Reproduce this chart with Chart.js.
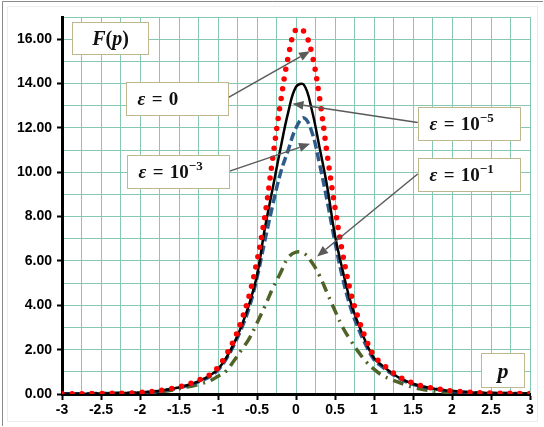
<!DOCTYPE html>
<html>
<head>
<meta charset="utf-8">
<script src="https://cdn.jsdelivr.net/npm/chart.js@4.4.1/dist/chart.umd.min.js"></script>
<style>
  html, body { margin: 0; padding: 0; background: #fff; }
  #marco { position: relative; width: 544px; height: 427px; }
</style>
</head>
<body>
<div id="marco"><canvas id="grafico" width="544" height="427"></canvas></div>
<script>
// Valores de p (eje horizontal)
const valoresP = [
  -3.0, -2.9, -2.8, -2.7, -2.6, -2.5, -2.4, -2.3, -2.2, -2.1,
  -2.0, -1.9, -1.8, -1.7, -1.6, -1.5, -1.4, -1.3, -1.2, -1.1,
  -1.0, -0.9, -0.8, -0.7, -0.6, -0.5, -0.4, -0.3, -0.2, -0.1,
   0.0,  0.1,  0.2,  0.3,  0.4,  0.5,  0.6,  0.7,  0.8,  0.9,
   1.0,  1.1,  1.2,  1.3,  1.4,  1.5,  1.6,  1.7,  1.8,  1.9,
   2.0,  2.1,  2.2,  2.3,  2.4,  2.5,  2.6,  2.7,  2.8,  2.9, 3.0
];

// F(p) para eps = 0 (punteado rojo)
const fEps0 = [
  0.01, 0.01, 0.01, 0.02, 0.02, 0.02, 0.03, 0.03, 0.04, 0.05,
  0.07, 0.10, 0.13, 0.18, 0.24, 0.32, 0.42, 0.54, 0.70, 0.88,
  1.20, 1.75, 2.40, 3.30, 4.45, 6.00, 8.00, 10.6, 13.1, 15.2,
  16.45, 16.35, 15.4, 13.4, 10.8, 8.40, 6.30, 4.60, 3.40, 2.45,
  1.72, 1.38, 1.08, 0.82, 0.64, 0.49, 0.38, 0.30, 0.24, 0.19,
  0.14, 0.11, 0.09, 0.07, 0.05, 0.04, 0.04, 0.03, 0.03, 0.02, 0.02
];

// F(p) para eps = 1e-5 (negro continuo)
const fEps5 = [
  0.01, 0.01, 0.01, 0.01, 0.02, 0.02, 0.02, 0.03, 0.04, 0.05,
  0.06, 0.09, 0.12, 0.17, 0.22, 0.30, 0.39, 0.50, 0.65, 0.84,
  1.12, 1.60, 2.25, 3.05, 4.05, 5.35, 7.45, 9.25, 11.05, 12.7,
  13.85, 13.95, 12.85, 11.15, 9.35, 7.15, 5.55, 4.15, 3.15, 2.30,
  1.62, 1.30, 1.02, 0.78, 0.60, 0.46, 0.36, 0.28, 0.22, 0.17,
  0.13, 0.10, 0.08, 0.06, 0.05, 0.04, 0.03, 0.03, 0.02, 0.02, 0.02
];

// F(p) para eps = 1e-3 (azul discontinuo)
const fEps3 = [
  0.01, 0.01, 0.01, 0.01, 0.02, 0.02, 0.02, 0.03, 0.03, 0.04,
  0.06, 0.08, 0.11, 0.16, 0.21, 0.28, 0.37, 0.48, 0.62, 0.80,
  1.08, 1.55, 2.18, 2.95, 3.90, 5.25, 6.90, 8.50, 9.95, 11.0,
  12.0, 12.45, 11.85, 10.4, 8.70, 6.85, 5.20, 3.90, 2.95, 2.18,
  1.55, 1.24, 0.98, 0.75, 0.57, 0.44, 0.34, 0.27, 0.21, 0.16,
  0.12, 0.10, 0.08, 0.06, 0.05, 0.04, 0.03, 0.03, 0.02, 0.02, 0.02
];

// F(p) para eps = 1e-1 (verde raya-punto)
const fEps1 = [
  0.01, 0.01, 0.01, 0.01, 0.01, 0.02, 0.02, 0.03, 0.03, 0.04,
  0.05, 0.06, 0.08, 0.12, 0.17, 0.24, 0.31, 0.38, 0.48, 0.60,
  0.80, 1.02, 1.48, 1.98, 2.50, 3.20, 3.95, 4.75, 5.45, 6.15,
  6.40, 6.35, 5.95, 5.35, 4.55, 3.75, 3.00, 2.42, 1.90, 1.45,
  1.12, 0.85, 0.68, 0.55, 0.42, 0.30, 0.22, 0.16, 0.12, 0.09,
  0.07, 0.05, 0.04, 0.03, 0.03, 0.02, 0.02, 0.01, 0.01, 0.01, 0.01
];

// Rango de ejes
const rangoP = [-3, 3];
const rangoF = [0, 17];

// Cuadros de texto (en unidades de datos)
const ESP = '\u2004';
const cuadros = [
  { partes: [['F', 1], ['(', 0], ['p', 1], [')', 0]], p: [-2.87, -1.90], f: [16.76, 15.33], centrado: true, size: 20 },
  { partes: [['ε', 1], [ESP + '=' + ESP + '0', 0]], p: [-2.18, -0.87], f: [14.07, 12.58], desde: [-0.87, 13.36], hasta: [0.18, 15.46] },
  { partes: [['ε', 1], [ESP + '=' + ESP + '10', 0], ['−3', 2]], p: [-2.17, -0.86], f: [10.79, 9.30], desde: [-0.86, 10.04], hasta: [0.18, 11.28] },
  { partes: [['ε', 1], [ESP + '=' + ESP + '10', 0], ['−5', 2]], p: [1.56, 2.87], f: [12.94, 11.46], desde: [1.56, 12.24], hasta: [-0.045, 13.09] },
  { partes: [['ε', 1], [ESP + '=' + ESP + '10', 0], ['−1', 2]], p: [1.56, 2.87], f: [10.65, 9.17], desde: [1.56, 9.92], hasta: [0.27, 6.2] },
  { partes: [['p', 1]], p: [2.37, 2.92], f: [1.84, 0.31], centrado: true, size: 22 }
];

function puntos(valores) {
  return valoresP.map((p, i) => ({ x: p, y: valores[i] }));
}

function esMedio(v) {
  return Math.abs(v * 2 - Math.round(v * 2)) < 1e-6;
}

function esPar(v) {
  return Math.abs(v / 2 - Math.round(v / 2)) < 1e-6;
}

function fuente(tipo, size) {
  const s = tipo === 2 ? Math.round(size * 0.7) : size;
  return (tipo === 1 ? 'italic ' : '') + 'bold ' + s + 'px "Liberation Serif", "DejaVu Serif", serif';
}

function dibujarFlecha(ctx, x1, y1, x2, y2) {
  const ang = Math.atan2(y2 - y1, x2 - x1);
  const largo = 11, ancho = 4.5;
  ctx.save();
  ctx.strokeStyle = '#5a5a5a';
  ctx.fillStyle = '#5a5a5a';
  ctx.lineWidth = 1.5;
  ctx.beginPath();
  ctx.moveTo(x1, y1);
  ctx.lineTo(x2 - Math.cos(ang) * largo, y2 - Math.sin(ang) * largo);
  ctx.stroke();
  ctx.beginPath();
  ctx.moveTo(x2, y2);
  ctx.lineTo(x2 - Math.cos(ang) * largo - Math.sin(ang) * ancho, y2 - Math.sin(ang) * largo + Math.cos(ang) * ancho);
  ctx.lineTo(x2 - Math.cos(ang) * largo + Math.sin(ang) * ancho, y2 - Math.sin(ang) * largo - Math.cos(ang) * ancho);
  ctx.closePath();
  ctx.fill();
  ctx.restore();
}

// Plugin: marco exterior
const pluginMarco = {
  id: 'marco',
  beforeDraw(chart) {
    const ctx = chart.ctx;
    ctx.save();
    ctx.fillStyle = '#fff';
    ctx.fillRect(0, 0, chart.width, chart.height);
    ctx.strokeStyle = '#8a8a8a';
    ctx.lineWidth = 1;
    ctx.beginPath();
    ctx.moveTo(2.5, 426);
    ctx.lineTo(2.5, 1.5);
    ctx.lineTo(543, 1.5);
    ctx.stroke();
    ctx.strokeStyle = '#ececec';
    ctx.strokeRect(7.5, 6.5, 530, 415);
    ctx.restore();
  }
};

// Plugin: cuadros de texto y flechas
const pluginCuadros = {
  id: 'cuadros',
  afterDatasetsDraw(chart) {
    const ctx = chart.ctx;
    const sx = chart.scales.x, sy = chart.scales.y;
    cuadros.forEach(c => {
      const size = c.size || 19;
      const x0 = Math.round(sx.getPixelForValue(c.p[0])) + 0.5;
      const x1 = Math.round(sx.getPixelForValue(c.p[1])) + 0.5;
      const y0 = Math.round(sy.getPixelForValue(c.f[0])) + 0.5;
      const y1 = Math.round(sy.getPixelForValue(c.f[1])) + 0.5;
      if (c.desde) {
        dibujarFlecha(ctx, sx.getPixelForValue(c.desde[0]), sy.getPixelForValue(c.desde[1]),
          sx.getPixelForValue(c.hasta[0]), sy.getPixelForValue(c.hasta[1]));
      }
      ctx.save();
      ctx.fillStyle = '#fff';
      ctx.fillRect(x0, y0, x1 - x0, y1 - y0);
      ctx.strokeStyle = '#bfb78f';
      ctx.lineWidth = 1;
      ctx.strokeRect(x0, y0, x1 - x0, y1 - y0);
      // medir texto
      let total = 0;
      c.partes.forEach(([t, tipo]) => {
        ctx.font = fuente(tipo, size);
        total += ctx.measureText(t).width;
      });
      let x = c.centrado ? (x0 + x1) / 2 - total / 2 : x0 + 11;
      const yc = (y0 + y1) / 2 + size * 0.33;
      ctx.fillStyle = '#111';
      ctx.textBaseline = 'alphabetic';
      c.partes.forEach(([t, tipo]) => {
        ctx.font = fuente(tipo, size);
        ctx.fillText(t, x, tipo === 2 ? yc - size * 0.42 : yc);
        x += ctx.measureText(t).width;
      });
      ctx.restore();
    });
  }
};

const colorGrid = '#86c8b2';

new Chart(document.getElementById('grafico'), {
  type: 'line',
  data: {
    datasets: [
      {
        label: 'eps = 0',
        data: puntos(fEps0),
        borderColor: '#ff0000',
        borderWidth: 5.5,
        borderDash: [0, 10],
        borderCapStyle: 'round',
        tension: 0.4,
        pointRadius: 0,
        fill: false,
        order: 0
      },
      {
        label: 'eps = 1e-5',
        data: puntos(fEps5),
        borderColor: '#000000',
        borderWidth: 2.5,
        tension: 0.4,
        pointRadius: 0,
        fill: false,
        order: 1
      },
      {
        label: 'eps = 1e-3',
        data: puntos(fEps3),
        borderColor: '#2e5b8a',
        borderWidth: 3.5,
        borderDash: [9, 4],
        tension: 0.4,
        pointRadius: 0,
        fill: false,
        order: 2
      },
      {
        label: 'eps = 1e-1',
        data: puntos(fEps1),
        borderColor: '#4f6228',
        borderWidth: 3.5,
        borderDash: [11, 6, 2, 6],
        tension: 0.4,
        pointRadius: 0,
        fill: false,
        order: 3
      }
    ]
  },
  options: {
    responsive: false,
    devicePixelRatio: 1,
    animation: false,
    layout: { padding: { left: 0, right: 14, top: 17, bottom: 0 } },
    plugins: {
      legend: { display: false },
      tooltip: { enabled: false }
    },
    scales: {
      x: {
        type: 'linear',
        min: rangoP[0],
        max: rangoP[1],
        afterFit(scale) { scale.height = 33; },
        border: { color: '#000', width: 3 },
        grid: {
          color: colorGrid,
          lineWidth: 1,
          tickLength: 6,
          tickColor: ctx => esMedio(ctx.tick.value) ? '#000' : 'rgba(0,0,0,0)',
          tickWidth: 2
        },
        ticks: {
          stepSize: 0.25,
          autoSkip: false,
          maxRotation: 0,
          padding: 2,
          color: '#000',
          font: { family: '"Liberation Sans", Arial, sans-serif', size: 14, weight: 'bold' },
          callback: v => esMedio(v) ? String(Number(v.toFixed(2))) : ''
        }
      },
      y: {
        type: 'linear',
        min: rangoF[0],
        max: rangoF[1],
        afterFit(scale) { scale.width = 62; },
        border: { color: '#000', width: 3 },
        grid: {
          color: colorGrid,
          lineWidth: 1,
          tickLength: 5,
          tickColor: ctx => esPar(ctx.tick.value) ? '#000' : 'rgba(0,0,0,0)',
          tickWidth: 2
        },
        ticks: {
          stepSize: 1,
          autoSkip: false,
          padding: 5,
          color: '#000',
          font: { family: '"Liberation Sans", Arial, sans-serif', size: 14, weight: 'bold' },
          callback: v => esPar(v) ? v.toFixed(2) : ''
        }
      }
    }
  },
  plugins: [pluginMarco, pluginCuadros]
});
</script>
</body>
</html>
